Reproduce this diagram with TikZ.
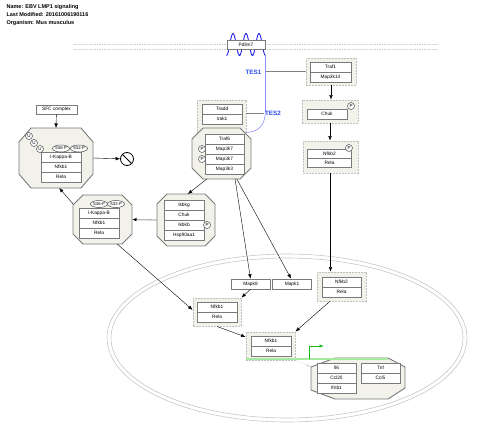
\documentclass[tikz,border=0pt]{standalone}
\usepackage{fontspec}
\setmainfont{Liberation Sans}
\usetikzlibrary{arrows.meta,shapes.misc,shapes.geometric}
\definecolor{pale}{HTML}{F2F1EA}
\definecolor{edge}{HTML}{7A7A7A}
\definecolor{tesblue}{HTML}{2B4BEF}
\definecolor{waveblue}{HTML}{1E1EE6}
\definecolor{lineblue}{HTML}{8C8CFF}
\definecolor{glight}{HTML}{A6E8A0}
\definecolor{gdark}{HTML}{1FB81F}

\begin{document}
\begin{tikzpicture}[x=1pt, y=-1pt,
    mol/.style = {draw=edge, fill=white, line width=0.7pt, minimum width=40pt, minimum height=10pt, inner sep=0pt, font=\fontsize{4.8}{5}\selectfont},
    grp/.style = {draw=gray!50, fill=pale, dash pattern=on 2pt off 1pt, line width=0.9pt, inner sep=0pt},
    cpx/.style = {draw=edge, fill=pale, line width=0.9pt},
    hull/.style = {inner sep=0pt, outer sep=0pt},
    st/.style = {draw=black!70, fill=white, circle, inner sep=0pt, minimum size=7pt, line width=0.5pt, font=\fontsize{4.5}{5}\selectfont},
    site/.style = {draw=black!70, fill=white, ellipse, inner sep=0pt, minimum width=17pt, minimum height=7pt, line width=0.5pt, font=\fontsize{4.2}{5}\selectfont},
    link/.style = {-{Latex[length=4.5pt,width=3.5pt]}, line width=0.4pt},
    tes/.style = {text=tesblue, font=\bfseries\fontsize{6.3}{7}\selectfont},
    head/.style = {anchor=west, font=\bfseries\fontsize{5.5}{6}\selectfont}]
\useasboundingbox (0,0) rectangle (480,437);

\node[head] (name) at (3,7) {Name: EBV LMP1 signaling};
\node[head] (modified) at (3,15) {Last Modified: 20161006190116};
\node[head] (organism) at (3,23) {Organism: Mus musculus};

\draw[gray!45, line width=0.6pt] (287,338) ellipse [x radius=180, y radius=84];
\draw[gray!45, line width=0.6pt] (287,338) ellipse [x radius=176, y radius=80];
\draw[gray!40, line width=0.9pt, dash pattern=on 1.5pt off 1pt] (74,44) -- (437,44) (74,49) -- (437,49);

% groups
\node[grp, minimum width=50pt, minimum height=27pt] (tr1) at (331,71.5) {};
\node[grp, minimum width=56pt, minimum height=23pt] (chg) at (330,111.5) {};
\node[grp, minimum width=55pt, minimum height=32pt] (nk2c) at (330.5,157) {};
\node[grp, minimum width=49pt, minimum height=32pt] (trg) at (221.5,116) {};
\node[grp, minimum width=49pt, minimum height=29pt] (nk2n) at (341.5,286.5) {};
\node[grp, minimum width=48pt, minimum height=28pt] (n1g) at (217,312) {};
\node[grp, minimum width=49pt, minimum height=28pt] (n2g) at (270.5,346) {};

% complexes
\draw[cpx] (31,128) -- (81,128) -- (93,142) -- (93,174) -- (81,188) -- (31,188) -- (19,174) -- (19,142) -- cycle;
\draw[cpx] (203,128) -- (240,128) -- (251,139) -- (251,168) -- (240,179) -- (203,179) -- (192,168) -- (192,139) -- cycle;
\draw[cpx] (167,194) -- (205,194) -- (215,204) -- (215,236) -- (205,246) -- (167,246) -- (157,236) -- (157,204) -- cycle;
\draw[cpx] (83,195) -- (122,195) -- (132,205) -- (132,234) -- (122,244) -- (83,244) -- (73,234) -- (73,205) -- cycle;
\draw[cpx] (335,358) -- (388,358) -- (405,367) -- (405,388) -- (388,399) -- (335,399) -- (311,390) -- (311,367) -- cycle;
\node[hull, minimum width=74pt, minimum height=60pt] (ucpx) at (56,158) {};
\node[hull, minimum width=59pt, minimum height=51pt] (t6) at (221.5,153.5) {};
\node[hull, minimum width=58pt, minimum height=52pt] (ikk) at (186,220) {};
\node[hull, minimum width=59pt, minimum height=49pt] (nfkb) at (102.5,219.5) {};
\node[hull, minimum width=94pt, minimum height=41pt] (cyto) at (358,378.5) {};

% Pdlim7
\draw[waveblue, line width=0.9pt] plot[domain=226.5:265.5, samples=80, smooth] (\x,{44.5-11*cos(360*(\x-233)/13)});
\node[mol, minimum width=38pt, minimum height=9pt] (pdlim7) at (246,44.5) {Pdlim7};
\coordinate (pdl) at (265.5,55.5);
\draw[lineblue, line width=0.6pt] (pdl) -- (265.5,110) .. controls (265.5,126) and (258,132) .. (trg.south east);

% molecules
\node[mol, minimum width=41pt] (traf1) at (330.5,67) {Traf1};
\node[mol, minimum width=41pt] (map3k14) at (330.5,77) {Map3k14};
\node[mol] (chuk) at (327,114) {Chuk};
\node[st] (pchuk) at (351,106) {P};
\node[mol, minimum width=44pt, minimum height=9pt] (nfkb2) at (329.5,154) {Nfkb2};
\node[mol, minimum width=44pt, minimum height=9pt] (rela1) at (329.5,163) {Rela};
\node[st] (pnfkb2) at (349,148) {P};
\node[mol] (tradd) at (222,109) {Tradd};
\node[mol] (irak1) at (222,119) {Irak1};
\node[mol, minimum width=39pt] (traf6) at (224.5,139) {Traf6};
\node[mol, minimum width=39pt] (map3k7a) at (224.5,149) {Map3k7};
\node[mol, minimum width=39pt] (map3k7b) at (224.5,159) {Map3k7};
\node[mol, minimum width=39pt] (map3k3) at (224.5,169) {Map3k3};
\node[st] (pmap3k7a) at (202,149) {P};
\node[st] (pmap3k7b) at (202,159) {P};
\node[mol] (ikbkg) at (184,205) {Ikbkg};
\node[mol] (chuk2) at (184,215) {Chuk};
\node[mol] (ikbkb) at (184,225) {Ikbkb};
\node[mol] (hsp) at (184,235) {Hsp90aa1};
\node[st] (pikbkb) at (207,225) {P};
\node[mol] (ikba1) at (99,213) {I-Kappa-B};
\node[mol] (nfkb1a) at (99,223) {Nfkb1};
\node[mol] (rela2) at (99,233) {Rela};
\node[site] (s36a) at (99,204) {S36-P};
\node[site] (s32a) at (116,204) {S32-P};
\node[mol] (ikba2) at (61,157) {I-Kappa-B};
\node[mol] (nfkb1b) at (61,167) {Nfkb1};
\node[mol] (rela3) at (61,177) {Rela};
\node[site] (s36b) at (61,148.5) {S36-P};
\node[site] (s32b) at (79,148.5) {S32-P};
\node[st] (u1) at (29,136) {U};
\node[st] (u2) at (34,143) {U};
\node[st] (u3) at (40,149) {U};
\node[mol, minimum width=41pt, minimum height=9pt] (sfc) at (56.5,109.5) {SFC complex};
\node[draw=black, circle, line width=0.8pt, minimum size=13pt, inner sep=0pt] (degr) at (127,159) {};
\draw[line width=0.8pt] (degr.135) -- (degr.-45);
\node[mol, minimum width=39pt] (mapk8) at (250.5,284) {Mapk8};
\node[mol, minimum width=39pt] (mapk1) at (292,284) {Mapk1};
\node[mol, minimum width=39pt] (nfkb2b) at (341.5,282) {Nfkb2};
\node[mol, minimum width=39pt] (rela4) at (341.5,292) {Rela};
\node[mol] (nfkb1c) at (217,307) {Nfkb1};
\node[mol] (rela5) at (217,317) {Rela};
\node[mol] (nfkb1d) at (271,341) {Nfkb1};
\node[mol] (rela6) at (271,351) {Rela};
\node[mol, minimum width=39pt] (il6) at (336.5,368) {Il6};
\node[mol, minimum width=39pt] (ccl20) at (336.5,378) {Ccl20};
\node[mol, minimum width=39pt] (ifnb1) at (336.5,388) {Ifnb1};
\node[mol, minimum width=39pt] (tnf) at (380.5,368) {Tnf};
\node[mol, minimum width=39pt] (ccl5) at (380.5,378) {Ccl5};

% TES
\coordinate (tes1) at (265.5,71.5);
\coordinate (tes2) at (264,113);
\draw[gray, line width=0.6pt] (tes1) -- (tr1.west);
\draw[gray, line width=0.6pt] (tes2 -| trg.east) -- (tes2);
\node[tes] (tes1lbl) at (253.5,72) {TES1};
\node[tes] (tes2lbl) at (273,113) {TES2};

% interactions
\draw[link] (sfc) -- (ucpx.north);
\draw[link] (ucpx.east) -- (degr);
\draw[link] (nfkb.152) -- (ucpx.276);
\draw[-{Latex[length=4.5pt,width=3.5pt,black]}, gray!55, line width=1.3pt] (ikk.west) -- (nfkb.east);
\draw[link] (t6.240) -- (ikk.86);
\draw[link] (t6.298) -- (mapk8.north);
\draw[link] (t6.301) -- (mapk1.100);
\draw[link] (tr1.south) -- (tr1.south |- chg.north);
\draw[link] (chg.south) -- (chg.south |- nk2c.north);
\draw[link] (nk2c.south) -- (nk2c.south |- nk2n.north);
\draw[link] (nfkb.301) -- (n1g.175);
\draw[link] (mapk8.south) -- (n1g.north east);
\draw[link] (n1g.south) -- (n2g.160);
\draw[link] (nk2n.232) -- (n2g.north east);
\draw[link, gray!25] (n2g.south east) -- (cyto.166);

% transcription
\coordinate (gend) at (388,359);
\coordinate (tss) at (309,359);
\draw[glight, line width=1.5pt] (n2g.south west |- gend) -- (gend);
\draw[gdark, line width=0.7pt, -{Latex[length=4.5pt,width=3.5pt]}] (tss) -- ++(0,-13) -- ++(15,0);
\end{tikzpicture}
\end{document}
